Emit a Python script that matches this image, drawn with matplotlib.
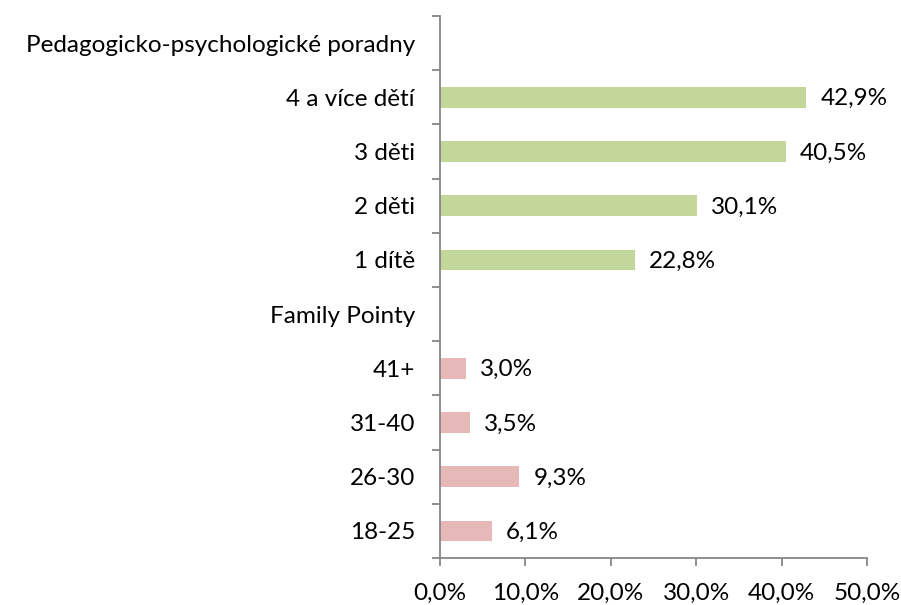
import matplotlib
matplotlib.use('Agg')
import matplotlib.pyplot as plt
from matplotlib.ticker import FuncFormatter, MultipleLocator

plt.rcParams['font.family'] = ['Lato', 'DejaVu Sans']

categories = ['Pedagogicko-psychologické poradny', '4 a více dětí', '3 děti', '2 děti', '1 dítě',
              'Family Pointy', '41+', '31-40', '26-30', '18-25']
values = [None, 42.9, 40.5, 30.1, 22.8, None, 3.0, 3.5, 9.3, 6.1]
groups = ['ppp', 'ppp', 'ppp', 'ppp', 'ppp', 'fp', 'fp', 'fp', 'fp', 'fp']

colors = {'ppp': '#C4D79B', 'fp': '#E6B9B8'}
axis_col = '#868686'
fs = 17.5

fig = plt.figure(figsize=(9.01, 6.05), dpi=100)
ax = fig.add_axes([440 / 901, 47 / 605, 427 / 901, 542 / 605])

n = len(categories)
ypos = list(range(n - 1, -1, -1))

for y, v, g in zip(ypos, values, groups):
    if v is None:
        continue
    ax.barh(y, v, height=0.38, color=colors[g])
    ax.annotate(f'{v:.1f}%'.replace('.', ','), (v, y), xytext=(10, -1),
                textcoords='offset points', va='center', ha='left', fontsize=fs)

ax.set_xlim(0, 50)
ax.set_ylim(-0.5, n - 0.5)
ax.xaxis.set_major_locator(MultipleLocator(10))
ax.xaxis.set_major_formatter(FuncFormatter(lambda x, p: f'{x:.1f}%'.replace('.', ',')))

ax.set_yticks(ypos)
ax.set_yticklabels(categories, fontsize=fs)
ax.set_yticks([i - 0.5 for i in range(n + 1)], minor=True)
ax.tick_params(axis='y', which='major', length=0, pad=18)
ax.tick_params(axis='y', which='minor', length=6, color=axis_col, width=1.3)
ax.tick_params(axis='x', length=6, color=axis_col, width=1.3, labelsize=fs, pad=12)

for s in ['top', 'right']:
    ax.spines[s].set_visible(False)
for s in ['left', 'bottom']:
    ax.spines[s].set_color(axis_col)
    ax.spines[s].set_linewidth(1.3)

fig.savefig('out.png', dpi=100)
